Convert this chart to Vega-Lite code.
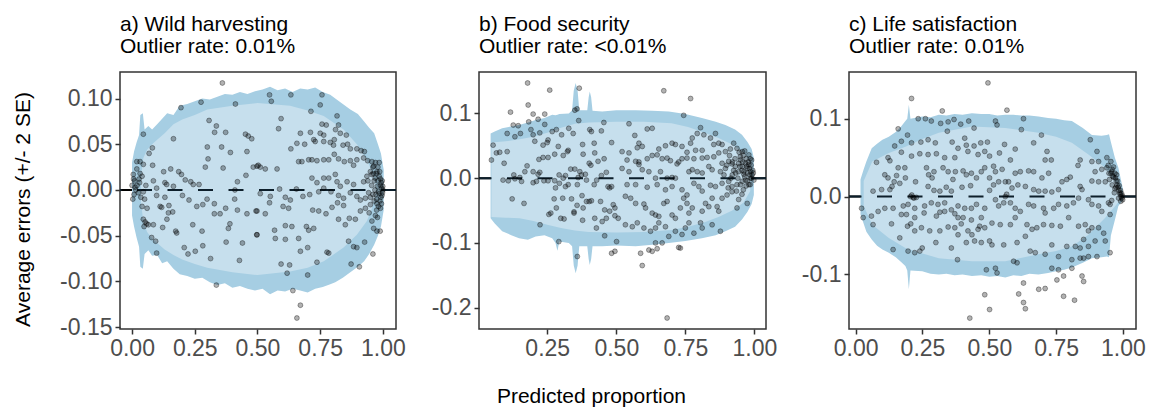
{
"$schema": "https://vega.github.io/schema/vega-lite/v6.json",
"background": "white",
"padding": {"left": 11, "top": 13, "right": 5, "bottom": 5},
"bounds": "flush",
"spacing": 83,
"datasets": {
"zero": [{"v": 0}],
"aOut": [{"x":0,"lo":-0.028,"hi":0.03},{"x":0.008,"lo":-0.04,"hi":0.042},{"x":0.018,"lo":-0.052,"hi":0.052},{"x":0.028,"lo":-0.062,"hi":0.06},{"x":0.033,"lo":-0.084,"hi":0.082},{"x":0.043,"lo":-0.086,"hi":0.084},{"x":0.05,"lo":-0.07,"hi":0.066},{"x":0.065,"lo":-0.066,"hi":0.07},{"x":0.08,"lo":-0.072,"hi":0.066},{"x":0.1,"lo":-0.071,"hi":0.072},{"x":0.12,"lo":-0.08,"hi":0.078},{"x":0.14,"lo":-0.078,"hi":0.084},{"x":0.165,"lo":-0.086,"hi":0.082},{"x":0.19,"lo":-0.092,"hi":0.092},{"x":0.22,"lo":-0.094,"hi":0.094},{"x":0.25,"lo":-0.097,"hi":0.097},{"x":0.28,"lo":-0.096,"hi":0.1},{"x":0.31,"lo":-0.101,"hi":0.099},{"x":0.34,"lo":-0.104,"hi":0.102},{"x":0.37,"lo":-0.102,"hi":0.105},{"x":0.4,"lo":-0.107,"hi":0.104},{"x":0.43,"lo":-0.105,"hi":0.107},{"x":0.46,"lo":-0.108,"hi":0.105},{"x":0.49,"lo":-0.11,"hi":0.108},{"x":0.52,"lo":-0.108,"hi":0.11},{"x":0.55,"lo":-0.114,"hi":0.113},{"x":0.58,"lo":-0.11,"hi":0.109},{"x":0.61,"lo":-0.111,"hi":0.111},{"x":0.64,"lo":-0.108,"hi":0.107},{"x":0.67,"lo":-0.11,"hi":0.111},{"x":0.7,"lo":-0.112,"hi":0.11},{"x":0.73,"lo":-0.108,"hi":0.112},{"x":0.76,"lo":-0.106,"hi":0.107},{"x":0.79,"lo":-0.103,"hi":0.104},{"x":0.81,"lo":-0.101,"hi":0.1},{"x":0.84,"lo":-0.096,"hi":0.094},{"x":0.87,"lo":-0.09,"hi":0.088},{"x":0.9,"lo":-0.084,"hi":0.083},{"x":0.925,"lo":-0.078,"hi":0.075},{"x":0.945,"lo":-0.07,"hi":0.068},{"x":0.965,"lo":-0.06,"hi":0.062},{"x":0.98,"lo":-0.05,"hi":0.05},{"x":0.992,"lo":-0.04,"hi":0.04},{"x":1.003,"lo":-0.022,"hi":0.022}],
"aIn": [{"x":0.035,"lo":-0.012,"hi":0.012},{"x":0.045,"lo":-0.035,"hi":0.035},{"x":0.06,"lo":-0.046,"hi":0.044},{"x":0.08,"lo":-0.053,"hi":0.05},{"x":0.1,"lo":-0.058,"hi":0.055},{"x":0.13,"lo":-0.065,"hi":0.062},{"x":0.165,"lo":-0.071,"hi":0.072},{"x":0.2,"lo":-0.076,"hi":0.077},{"x":0.25,"lo":-0.081,"hi":0.082},{"x":0.3,"lo":-0.085,"hi":0.088},{"x":0.4,"lo":-0.09,"hi":0.092},{"x":0.5,"lo":-0.093,"hi":0.095},{"x":0.63,"lo":-0.089,"hi":0.092},{"x":0.7,"lo":-0.085,"hi":0.087},{"x":0.764,"lo":-0.078,"hi":0.081},{"x":0.843,"lo":-0.063,"hi":0.066},{"x":0.896,"lo":-0.049,"hi":0.05},{"x":0.936,"lo":-0.034,"hi":0.033},{"x":0.956,"lo":-0.02,"hi":0.02},{"x":0.972,"lo":-0.005,"hi":0.005}],
"aPts": [{"x":0.36,"y":0.117},{"x":0.195,"y":0.09},{"x":0.275,"y":0.096},{"x":0.412,"y":0.094},{"x":0.045,"y":0.061},{"x":0.165,"y":0.056},{"x":0.307,"y":0.076},{"x":0.336,"y":0.07},{"x":0.329,"y":0.063},{"x":0.373,"y":0.063},{"x":0.452,"y":0.061},{"x":0.463,"y":0.059},{"x":0.477,"y":0.056},{"x":0.3,"y":0.047},{"x":0.357,"y":0.047},{"x":0.392,"y":0.041},{"x":0.458,"y":0.042},{"x":0.081,"y":0.046},{"x":0.068,"y":0.04},{"x":0.303,"y":0.034},{"x":0.292,"y":0.025},{"x":0.363,"y":0.024},{"x":0.454,"y":0.016},{"x":0.483,"y":0.025},{"x":0.503,"y":0.027},
{"x":0.019,"y":0.031},{"x":0.032,"y":0.031},{"x":0.045,"y":0.028},{"x":0.082,"y":0.027},{"x":0.019,"y":0.023},{"x":0.005,"y":0.017},{"x":0.032,"y":0.018},{"x":0.01,"y":0.01},{"x":0.02,"y":0.005},{"x":0.03,"y":0.008},{"x":0.015,"y":0},{"x":0.025,"y":-0.003},{"x":0.008,"y":-0.005},{"x":0.035,"y":-0.008},{"x":0.045,"y":-0.002},{"x":0.012,"y":0.003},{"x":0.028,"y":0.012},{"x":0.04,"y":0.015},{"x":0.05,"y":-0.01},{"x":0.055,"y":0.005},{"x":0.04,"y":-0.018},{"x":0.06,"y":-0.02},{"x":0.045,"y":-0.032},{"x":0.052,"y":-0.035},{"x":0.058,"y":-0.037},{"x":0.065,"y":-0.038},{"x":0.048,"y":-0.04},{"x":0,"y":0.005},{"x":0.003,"y":-0.01},{"x":0.006,"y":0.012},
{"x":0.126,"y":0.02},{"x":0.154,"y":0.023},{"x":0.186,"y":0.02},{"x":0.197,"y":0.017},{"x":0.212,"y":0.011},{"x":0.244,"y":0.006},{"x":0.267,"y":0.006},{"x":0.234,"y":0.009},{"x":0.085,"y":0.01},{"x":0.131,"y":0.008},{"x":0.138,"y":0.006},{"x":0.165,"y":0.004},{"x":0.098,"y":0.002},{"x":0.42,"y":0.009},{"x":0.41,"y":0},{"x":0.409,"y":-0.01},
{"x":0.201,"y":-0.006},{"x":0.227,"y":-0.011},{"x":0.258,"y":-0.018},{"x":0.282,"y":-0.016},{"x":0.299,"y":-0.01},{"x":0.328,"y":-0.015},{"x":0.328,"y":-0.026},{"x":0.351,"y":-0.026},
{"x":0.098,"y":-0.006},{"x":0.131,"y":-0.008},{"x":0.112,"y":-0.018},{"x":0.118,"y":-0.019},{"x":0.147,"y":-0.017},{"x":0.145,"y":-0.025},{"x":0.162,"y":-0.024},{"x":0.139,"y":-0.032},{"x":0.122,"y":-0.041},{"x":0.085,"y":-0.038},{"x":0.078,"y":-0.052},{"x":0.094,"y":-0.056},{"x":0.098,"y":-0.069},
{"x":0.42,"y":-0.022},{"x":0.458,"y":-0.026},{"x":0.494,"y":-0.023},{"x":0.497,"y":-0.049},{"x":0.373,"y":-0.02},{"x":0.39,"y":-0.037},{"x":0.384,"y":-0.042},{"x":0.279,"y":-0.045},{"x":0.242,"y":-0.038},{"x":0.178,"y":-0.047},{"x":0.174,"y":-0.045},
{"x":0.208,"y":-0.063},{"x":0.223,"y":-0.07},{"x":0.252,"y":-0.067},{"x":0.282,"y":-0.061},{"x":0.313,"y":-0.075},{"x":0.375,"y":-0.057},{"x":0.44,"y":-0.058},{"x":0.428,"y":-0.077},{"x":0.336,"y":-0.104},
{"x":0.548,"y":0.104},{"x":0.555,"y":0.097},{"x":0.633,"y":0.104},{"x":0.757,"y":0.104},{"x":0.75,"y":0.093},
{"x":0.713,"y":0.086},{"x":0.817,"y":0.081},{"x":0.774,"y":0.071},{"x":0.757,"y":0.072},{"x":0.823,"y":0.071},{"x":0.594,"y":0.078},{"x":0.584,"y":0.067},{"x":0.671,"y":0.062},{"x":0.711,"y":0.063},{"x":0.75,"y":0.062},{"x":0.724,"y":0.055},{"x":0.764,"y":0.06},{"x":0.811,"y":0.066},{"x":0.83,"y":0.062},{"x":0.854,"y":0.06},{"x":0.806,"y":0.055},
{"x":0.633,"y":0.045},{"x":0.657,"y":0.051},{"x":0.688,"y":0.05},{"x":0.73,"y":0.053},{"x":0.764,"y":0.053},{"x":0.79,"y":0.052},{"x":0.803,"y":0.049},{"x":0.841,"y":0.049},{"x":0.859,"y":0.05},{"x":0.87,"y":0.045},{"x":0.896,"y":0.045},{"x":0.913,"y":0.043},{"x":0.926,"y":0.042},
{"x":0.664,"y":0.031},{"x":0.677,"y":0.031},{"x":0.704,"y":0.033},{"x":0.717,"y":0.033},{"x":0.737,"y":0.032},{"x":0.764,"y":0.033},{"x":0.784,"y":0.033},{"x":0.806,"y":0.039},{"x":0.823,"y":0.034},{"x":0.846,"y":0.031},{"x":0.87,"y":0.032},{"x":0.883,"y":0.027},{"x":0.896,"y":0.033},{"x":0.923,"y":0.035},{"x":0.939,"y":0.032},{"x":0.956,"y":0.031},{"x":0.963,"y":0.026},{"x":0.976,"y":0.02},
{"x":0.498,"y":0.026},{"x":0.531,"y":0.023},{"x":0.511,"y":0.025},{"x":0.578,"y":0.023},{"x":0.717,"y":0.013},{"x":0.737,"y":0.008},{"x":0.764,"y":0.013},{"x":0.784,"y":0.013},{"x":0.81,"y":0.017},{"x":0.817,"y":0.009},{"x":0.83,"y":0.004},{"x":0.857,"y":0.009},{"x":0.883,"y":0.006},{"x":0.923,"y":0.009},{"x":0.936,"y":0.015},{"x":0.956,"y":0.017},{"x":0.969,"y":0.013},
{"x":0.588,"y":0.001},{"x":0.655,"y":0.001},{"x":0.551,"y":-0.007},{"x":0.548,"y":-0.014},{"x":0.511,"y":-0.004},{"x":0.611,"y":-0.008},{"x":0.631,"y":-0.011},{"x":0.681,"y":-0.007},{"x":0.708,"y":-0.005},{"x":0.744,"y":-0.002},{"x":0.764,"y":0.002},{"x":0.793,"y":-0.002},{"x":0.823,"y":-0.006},{"x":0.843,"y":-0.009},{"x":0.87,"y":-0.003},{"x":0.896,"y":-0.007},{"x":0.91,"y":-0.011},{"x":0.93,"y":-0.009},{"x":0.943,"y":-0.003},
{"x":0.498,"y":-0.023},{"x":0.531,"y":-0.026},{"x":0.602,"y":-0.018},{"x":0.624,"y":-0.02},{"x":0.72,"y":-0.022},{"x":0.744,"y":-0.023},{"x":0.773,"y":-0.026},{"x":0.797,"y":-0.019},{"x":0.819,"y":-0.014},{"x":0.843,"y":-0.017},{"x":0.823,"y":-0.032},{"x":0.85,"y":-0.038},{"x":0.866,"y":-0.031},{"x":0.89,"y":-0.032},{"x":0.91,"y":-0.023},{"x":0.93,"y":-0.02},{"x":0.95,"y":-0.016},{"x":0.976,"y":-0.015},{"x":0.956,"y":-0.034},
{"x":0.611,"y":-0.039},{"x":0.637,"y":-0.04},{"x":0.498,"y":-0.049},{"x":0.568,"y":-0.044},{"x":0.571,"y":-0.053},{"x":0.611,"y":-0.054},{"x":0.695,"y":-0.04},{"x":0.704,"y":-0.044},{"x":0.724,"y":-0.042},{"x":0.664,"y":-0.053},{"x":0.671,"y":-0.067},{"x":0.7,"y":-0.063},{"x":0.777,"y":-0.068},{"x":0.863,"y":-0.056},{"x":0.883,"y":-0.062},{"x":0.896,"y":-0.063},{"x":0.927,"y":-0.057},{"x":0.963,"y":-0.042},{"x":0.976,"y":-0.045},{"x":0.989,"y":-0.045},{"x":0.96,"y":-0.07},
{"x":0.594,"y":-0.081},{"x":0.628,"y":-0.082},{"x":0.618,"y":-0.091},{"x":0.7,"y":-0.093},{"x":0.737,"y":-0.079},{"x":0.784,"y":-0.069},{"x":0.873,"y":-0.081},{"x":0.906,"y":-0.084},{"x":0.641,"y":-0.11},{"x":0.671,"y":-0.126},{"x":0.657,"y":-0.14},
{"x":0.95,"y":0.02},{"x":0.96,"y":0.025},{"x":0.97,"y":0.03},{"x":0.975,"y":0.018},{"x":0.98,"y":0.01},{"x":0.985,"y":0.015},{"x":0.99,"y":0.005},{"x":0.995,"y":0.002},{"x":1,"y":0},{"x":0.998,"y":-0.003},{"x":0.992,"y":-0.008},{"x":0.988,"y":-0.012},{"x":0.982,"y":-0.018},{"x":0.975,"y":-0.022},{"x":0.97,"y":-0.028},{"x":0.965,"y":-0.012},{"x":0.96,"y":-0.005},{"x":0.955,"y":0.005},{"x":0.965,"y":0.01},{"x":0.978,"y":0.004},{"x":0.985,"y":-0.004},{"x":0.99,"y":0.012},{"x":0.993,"y":0.008},{"x":0.996,"y":-0.006},{"x":0.999,"y":0.004},{"x":0.997,"y":0.01},{"x":0.987,"y":0.02},{"x":0.98,"y":0.025},{"x":0.972,"y":-0.005},{"x":0.968,"y":0},{"x":0.975,"y":-0.01},{"x":0.982,"y":-0.002},{"x":0.994,"y":-0.015},{"x":0.99,"y":-0.02},{"x":0.945,"y":-0.025},{"x":0.94,"y":0.01},{"x":0.95,"y":-0.008},{"x":0.985,"y":0.03},{"x":0.978,"y":-0.03},{"x":0.962,"y":0.018}],
"bOut": [{"x":0.045,"lo":-0.062,"hi":0.069},{"x":0.06,"lo":-0.07,"hi":0.072},{"x":0.087,"lo":-0.082,"hi":0.077},{"x":0.12,"lo":-0.088,"hi":0.08},{"x":0.148,"lo":-0.093,"hi":0.082},{"x":0.18,"lo":-0.095,"hi":0.086},{"x":0.208,"lo":-0.09,"hi":0.09},{"x":0.24,"lo":-0.088,"hi":0.093},{"x":0.268,"lo":-0.093,"hi":0.098},{"x":0.28,"lo":-0.1,"hi":0.097},{"x":0.287,"lo":-0.112,"hi":0.098},{"x":0.294,"lo":-0.098,"hi":0.099},{"x":0.328,"lo":-0.1,"hi":0.1},{"x":0.34,"lo":-0.105,"hi":0.105},{"x":0.346,"lo":-0.135,"hi":0.135},{"x":0.353,"lo":-0.147,"hi":0.147},{"x":0.36,"lo":-0.135,"hi":0.135},{"x":0.366,"lo":-0.105,"hi":0.105},{"x":0.395,"lo":-0.105,"hi":0.105},{"x":0.4,"lo":-0.125,"hi":0.125},{"x":0.404,"lo":-0.134,"hi":0.134},{"x":0.409,"lo":-0.125,"hi":0.125},{"x":0.414,"lo":-0.105,"hi":0.104},{"x":0.449,"lo":-0.105,"hi":0.103},{"x":0.5,"lo":-0.104,"hi":0.105},{"x":0.57,"lo":-0.105,"hi":0.105},{"x":0.63,"lo":-0.103,"hi":0.104},{"x":0.69,"lo":-0.1,"hi":0.103},{"x":0.75,"lo":-0.097,"hi":0.099},{"x":0.81,"lo":-0.093,"hi":0.093},{"x":0.86,"lo":-0.088,"hi":0.087},{"x":0.895,"lo":-0.082,"hi":0.082},{"x":0.93,"lo":-0.075,"hi":0.075},{"x":0.955,"lo":-0.064,"hi":0.067},{"x":0.975,"lo":-0.052,"hi":0.056},{"x":0.99,"lo":-0.04,"hi":0.045},{"x":0.998,"lo":-0.026,"hi":0.031}],
"bIn": [{"x":0.048,"lo":-0.06,"hi":0.055},{"x":0.1,"lo":-0.061,"hi":0.057},{"x":0.15,"lo":-0.062,"hi":0.06},{"x":0.2,"lo":-0.066,"hi":0.064},{"x":0.25,"lo":-0.072,"hi":0.07},{"x":0.3,"lo":-0.077,"hi":0.078},{"x":0.35,"lo":-0.081,"hi":0.084},{"x":0.4,"lo":-0.083,"hi":0.086},{"x":0.5,"lo":-0.084,"hi":0.087},{"x":0.6,"lo":-0.083,"hi":0.087},{"x":0.7,"lo":-0.08,"hi":0.085},{"x":0.76,"lo":-0.075,"hi":0.079},{"x":0.82,"lo":-0.068,"hi":0.07},{"x":0.87,"lo":-0.06,"hi":0.062},{"x":0.92,"lo":-0.05,"hi":0.052},{"x":0.96,"lo":-0.038,"hi":0.04},{"x":0.985,"lo":-0.02,"hi":0.025}],
"bPts": [{"x":0.179,"y":0.147},{"x":0.259,"y":0.136},{"x":0.366,"y":0.139},{"x":0.181,"y":0.113},{"x":0.117,"y":0.102},{"x":0.199,"y":0.099},{"x":0.241,"y":0.099},{"x":0.183,"y":0.087},{"x":0.217,"y":0.091},{"x":0.127,"y":0.082},{"x":0.145,"y":0.081},{"x":0.105,"y":0.069},{"x":0.133,"y":0.064},{"x":0.153,"y":0.069},{"x":0.191,"y":0.075},{"x":0.199,"y":0.067},{"x":0.241,"y":0.083},{"x":0.223,"y":0.07},{"x":0.268,"y":0.072},{"x":0.283,"y":0.075},{"x":0.302,"y":0.067},{"x":0.328,"y":0.077},{"x":0.344,"y":0.069},{"x":0.35,"y":0.105},{"x":0.358,"y":0.107},{"x":0.364,"y":0.089},{"x":0.404,"y":0.075},{"x":0.41,"y":0.072},{"x":0.446,"y":0.073},{"x":0.455,"y":0.086},{"x":0.483,"y":0.055},
{"x":0.054,"y":0.051},{"x":0.066,"y":0.039},{"x":0.048,"y":0.028},{"x":0.078,"y":0.04},{"x":0.105,"y":0.041},{"x":0.094,"y":0.023},{"x":0.205,"y":0.057},{"x":0.235,"y":0.051},{"x":0.253,"y":0.059},{"x":0.25,"y":0.055},{"x":0.29,"y":0.049},{"x":0.326,"y":0.043},{"x":0.323,"y":0.041},{"x":0.308,"y":0.035},{"x":0.253,"y":0.032},{"x":0.235,"y":0.032},{"x":0.22,"y":0.029},{"x":0.277,"y":0.037},
{"x":0.378,"y":0.052},{"x":0.42,"y":0.054},{"x":0.38,"y":0.037},{"x":0.422,"y":0.039},{"x":0.456,"y":0.03},{"x":0.434,"y":0.026},{"x":0.402,"y":0.023},{"x":0.408,"y":0.02},
{"x":0.177,"y":0.019},{"x":0.169,"y":0.01},{"x":0.199,"y":0.01},{"x":0.223,"y":0.009},{"x":0.217,"y":0.006},{"x":0.129,"y":0.005},{"x":0.151,"y":0.001},{"x":0.157,"y":-0.005},{"x":0.09,"y":-0.003},{"x":0.109,"y":-0.004},{"x":0.133,"y":-0.001},
{"x":0.293,"y":0.005},{"x":0.308,"y":0},{"x":0.316,"y":0.004},{"x":0.335,"y":0.014},{"x":0.35,"y":0.014},{"x":0.368,"y":0.01},{"x":0.362,"y":0.001},{"x":0.374,"y":0.005},{"x":0.388,"y":0.006},{"x":0.392,"y":-0.003},
{"x":0.199,"y":-0.007},{"x":0.211,"y":-0.005},{"x":0.238,"y":-0.004},{"x":0.253,"y":-0.004},{"x":0.277,"y":-0.004},{"x":0.294,"y":-0.008},{"x":0.28,"y":-0.015},{"x":0.316,"y":-0.013},{"x":0.326,"y":-0.01},{"x":0.359,"y":-0.01},
{"x":0.42,"y":-0.01},{"x":0.429,"y":-0.003},{"x":0.446,"y":0.004},{"x":0.464,"y":0.009},{"x":0.47,"y":-0.013},{"x":0.476,"y":-0.015},{"x":0.483,"y":-0.013},
{"x":0.123,"y":-0.032},{"x":0.166,"y":-0.039},{"x":0.275,"y":-0.032},{"x":0.306,"y":-0.031},{"x":0.338,"y":-0.032},{"x":0.376,"y":-0.027},{"x":0.392,"y":-0.036},{"x":0.402,"y":-0.036},{"x":0.41,"y":-0.035},{"x":0.358,"y":-0.042},{"x":0.347,"y":-0.052},{"x":0.38,"y":-0.046},{"x":0.443,"y":-0.036},{"x":0.458,"y":-0.049},{"x":0.476,"y":-0.051},{"x":0.489,"y":-0.041},{"x":0.495,"y":-0.046},{"x":0.495,"y":-0.058},{"x":0.507,"y":-0.062},{"x":0.464,"y":-0.062},{"x":0.449,"y":-0.067},
{"x":0.263,"y":-0.054},{"x":0.256,"y":-0.056},{"x":0.283,"y":-0.046},{"x":0.299,"y":-0.062},{"x":0.311,"y":-0.063},{"x":0.347,"y":-0.054},{"x":0.378,"y":-0.065},{"x":0.422,"y":-0.062},{"x":0.428,"y":-0.077},{"x":0.458,"y":-0.089},{"x":0.224,"y":-0.072},{"x":0.292,"y":-0.098},{"x":0.359,"y":-0.121},{"x":0.501,"y":-0.098},{"x":0.483,"y":-0.116},{"x":0.495,"y":-0.113},
{"x":0.672,"y":0.135},{"x":0.769,"y":0.123},{"x":0.744,"y":0.097},{"x":0.805,"y":0.078},{"x":0.793,"y":0.069},{"x":0.817,"y":0.067},{"x":0.859,"y":0.069},
{"x":0.612,"y":0.076},{"x":0.63,"y":0.077},{"x":0.546,"y":0.084},{"x":0.567,"y":0.066},{"x":0.582,"y":0.054},{"x":0.576,"y":0.047},{"x":0.594,"y":0.049},{"x":0.654,"y":0.045},{"x":0.678,"y":0.05},{"x":0.702,"y":0.054},{"x":0.714,"y":0.052},{"x":0.738,"y":0.049},{"x":0.756,"y":0.04},{"x":0.775,"y":0.062},{"x":0.769,"y":0.054},{"x":0.787,"y":0.043},{"x":0.811,"y":0.043},{"x":0.841,"y":0.062},{"x":0.853,"y":0.052},{"x":0.871,"y":0.054},{"x":0.883,"y":0.052},
{"x":0.521,"y":0.041},{"x":0.546,"y":0.039},{"x":0.539,"y":0.028},{"x":0.57,"y":0.026},{"x":0.582,"y":0.025},{"x":0.594,"y":0.013},{"x":0.612,"y":0.03},{"x":0.63,"y":0.035},{"x":0.648,"y":0.036},{"x":0.666,"y":0.03},{"x":0.684,"y":0.031},{"x":0.696,"y":0.027},{"x":0.72,"y":0.022},{"x":0.726,"y":0.025},{"x":0.738,"y":0.03},{"x":0.756,"y":0.031},{"x":0.781,"y":0.03},{"x":0.811,"y":0.031},{"x":0.829,"y":0.032},{"x":0.853,"y":0.033},{"x":0.871,"y":0.039},{"x":0.895,"y":0.041},{"x":0.913,"y":0.045},{"x":0.925,"y":0.054},{"x":0.937,"y":0.046},{"x":0.956,"y":0.041},{"x":0.949,"y":0.033},
{"x":0.521,"y":0.015},{"x":0.546,"y":0.01},{"x":0.582,"y":0.021},{"x":0.618,"y":0.01},{"x":0.642,"y":0},{"x":0.66,"y":0.01},{"x":0.684,"y":0},{"x":0.702,"y":0.001},{"x":0.714,"y":0},{"x":0.763,"y":0.01},{"x":0.775,"y":0.013},{"x":0.793,"y":0.01},{"x":0.811,"y":0.008},{"x":0.835,"y":0.018},{"x":0.847,"y":0.013},{"x":0.877,"y":0.01},{"x":0.883,"y":0.023},{"x":0.895,"y":0.015},{"x":0.907,"y":0.026},{"x":0.919,"y":0.022},{"x":0.931,"y":0.018},{"x":0.943,"y":0.023},{"x":0.956,"y":0.018},{"x":0.968,"y":0.023},{"x":0.974,"y":0.015},{"x":0.986,"y":0.01},{"x":0.98,"y":0.021},{"x":0.962,"y":0.01},{"x":0.943,"y":0.01},{"x":0.992,"y":0.005},
{"x":0.539,"y":-0.01},{"x":0.57,"y":-0.01},{"x":0.612,"y":-0.014},{"x":0.648,"y":-0.01},{"x":0.678,"y":-0.018},{"x":0.702,"y":-0.013},{"x":0.738,"y":-0.018},{"x":0.756,"y":-0.026},{"x":0.781,"y":-0.008},{"x":0.799,"y":-0.013},{"x":0.811,"y":-0.02},{"x":0.841,"y":-0.011},{"x":0.859,"y":-0.013},{"x":0.883,"y":-0.008},{"x":0.907,"y":-0.005},{"x":0.919,"y":-0.013},{"x":0.937,"y":-0.01},{"x":0.956,"y":-0.005},{"x":0.968,"y":-0.003},{"x":0.986,"y":0},{"x":0.998,"y":-0.003},{"x":0.98,"y":-0.01},
{"x":0.533,"y":-0.028},{"x":0.552,"y":-0.031},{"x":0.57,"y":-0.039},{"x":0.6,"y":-0.04},{"x":0.606,"y":-0.046},{"x":0.63,"y":-0.054},{"x":0.642,"y":-0.057},{"x":0.654,"y":-0.059},{"x":0.672,"y":-0.039},{"x":0.684,"y":-0.036},{"x":0.702,"y":-0.057},{"x":0.714,"y":-0.062},{"x":0.732,"y":-0.046},{"x":0.744,"y":-0.031},{"x":0.756,"y":-0.039},{"x":0.775,"y":-0.046},{"x":0.763,"y":-0.054},{"x":0.811,"y":-0.051},{"x":0.823,"y":-0.039},{"x":0.835,"y":-0.044},{"x":0.847,"y":-0.031},{"x":0.865,"y":-0.044},{"x":0.871,"y":-0.051},{"x":0.883,"y":-0.031},{"x":0.901,"y":-0.026},{"x":0.919,"y":-0.021},{"x":0.943,"y":-0.033},{"x":0.974,"y":-0.039},{"x":0.937,"y":-0.046},
{"x":0.533,"y":-0.072},{"x":0.558,"y":-0.075},{"x":0.576,"y":-0.069},{"x":0.6,"y":-0.077},{"x":0.624,"y":-0.082},{"x":0.642,"y":-0.077},{"x":0.654,"y":-0.069},{"x":0.678,"y":-0.075},{"x":0.69,"y":-0.09},{"x":0.714,"y":-0.082},{"x":0.738,"y":-0.087},{"x":0.75,"y":-0.077},{"x":0.763,"y":-0.069},{"x":0.781,"y":-0.085},{"x":0.805,"y":-0.069},{"x":0.811,"y":-0.077},{"x":0.847,"y":-0.072},{"x":0.877,"y":-0.082},
{"x":0.642,"y":-0.1},{"x":0.648,"y":-0.109},{"x":0.618,"y":-0.111},{"x":0.63,"y":-0.113},{"x":0.666,"y":-0.1},{"x":0.726,"y":-0.107},{"x":0.732,"y":-0.108},{"x":0.588,"y":-0.116},{"x":0.594,"y":-0.135},{"x":0.684,"y":-0.216},
{"x":0.9,"y":0.02},{"x":0.91,"y":0.035},{"x":0.92,"y":0.005},{"x":0.93,"y":0.03},{"x":0.94,"y":0},{"x":0.95,"y":0.028},{"x":0.955,"y":0.012},{"x":0.96,"y":0.035},{"x":0.965,"y":0.002},{"x":0.97,"y":0.03},{"x":0.975,"y":0.008},{"x":0.978,"y":0.025},{"x":0.982,"y":0.015},{"x":0.985,"y":0.03},{"x":0.99,"y":0},{"x":0.988,"y":0.02},{"x":0.994,"y":0.012},{"x":0.97,"y":-0.012},{"x":0.96,"y":-0.018},{"x":0.95,"y":-0.01},{"x":0.935,"y":-0.02},{"x":0.925,"y":0.012},{"x":0.915,"y":0},{"x":0.905,"y":-0.015},{"x":0.89,"y":0.005},{"x":0.945,"y":0.04},{"x":0.958,"y":0.025},{"x":0.972,"y":0.018},{"x":0.983,"y":0.005},{"x":0.996,"y":0.008},{"x":0.975,"y":-0.004},{"x":0.962,"y":0.006},{"x":0.948,"y":0.018},{"x":0.932,"y":0.008},{"x":0.92,"y":0.025},{"x":0.98,"y":0.036},{"x":0.99,"y":0.028},{"x":0.965,"y":0.042},{"x":0.955,"y":-0.025},{"x":0.985,"y":-0.01}],
"cOut": [{"x":0.018,"lo":-0.023,"hi":0.022},{"x":0.03,"lo":-0.035,"hi":0.035},{"x":0.04,"lo":-0.045,"hi":0.045},{"x":0.06,"lo":-0.055,"hi":0.062},{"x":0.08,"lo":-0.063,"hi":0.068},{"x":0.1,"lo":-0.068,"hi":0.073},{"x":0.124,"lo":-0.072,"hi":0.077},{"x":0.15,"lo":-0.078,"hi":0.083},{"x":0.17,"lo":-0.084,"hi":0.09},{"x":0.186,"lo":-0.089,"hi":0.097},{"x":0.193,"lo":-0.095,"hi":0.1},{"x":0.199,"lo":-0.119,"hi":0.118},{"x":0.205,"lo":-0.095,"hi":0.1},{"x":0.249,"lo":-0.096,"hi":0.103},{"x":0.28,"lo":-0.099,"hi":0.102},{"x":0.311,"lo":-0.1,"hi":0.105},{"x":0.34,"lo":-0.099,"hi":0.104},{"x":0.37,"lo":-0.101,"hi":0.106},{"x":0.4,"lo":-0.1,"hi":0.105},{"x":0.435,"lo":-0.102,"hi":0.107},{"x":0.47,"lo":-0.101,"hi":0.106},{"x":0.5,"lo":-0.103,"hi":0.106},{"x":0.53,"lo":-0.102,"hi":0.104},{"x":0.56,"lo":-0.104,"hi":0.105},{"x":0.59,"lo":-0.101,"hi":0.105},{"x":0.62,"lo":-0.102,"hi":0.104},{"x":0.65,"lo":-0.099,"hi":0.104},{"x":0.684,"lo":-0.1,"hi":0.103},{"x":0.72,"lo":-0.098,"hi":0.101},{"x":0.75,"lo":-0.096,"hi":0.1},{"x":0.78,"lo":-0.094,"hi":0.098},{"x":0.809,"lo":-0.091,"hi":0.097},{"x":0.85,"lo":-0.085,"hi":0.088},{"x":0.884,"lo":-0.079,"hi":0.079},{"x":0.92,"lo":-0.078,"hi":0.078},{"x":0.94,"lo":-0.077,"hi":0.079},{"x":0.948,"lo":-0.078,"hi":0.08},{"x":0.955,"lo":-0.05,"hi":0.07},{"x":0.97,"lo":-0.03,"hi":0.05},{"x":0.983,"lo":-0.012,"hi":0.037},{"x":1,"lo":-0.005,"hi":0.01}],
"cIn": [{"x":0.03,"lo":-0.012,"hi":0.02},{"x":0.062,"lo":-0.036,"hi":0.045},{"x":0.124,"lo":-0.053,"hi":0.056},{"x":0.186,"lo":-0.066,"hi":0.064},{"x":0.25,"lo":-0.073,"hi":0.074},{"x":0.311,"lo":-0.079,"hi":0.082},{"x":0.435,"lo":-0.083,"hi":0.09},{"x":0.56,"lo":-0.083,"hi":0.088},{"x":0.684,"lo":-0.074,"hi":0.082},{"x":0.75,"lo":-0.07,"hi":0.077},{"x":0.809,"lo":-0.064,"hi":0.069},{"x":0.871,"lo":-0.049,"hi":0.054},{"x":0.934,"lo":-0.027,"hi":0.037},{"x":0.996,"lo":-0.002,"hi":0.007}],
"cPts": [{"x":0.495,"y":0.146},{"x":0.209,"y":0.126},{"x":0.324,"y":0.11},
{"x":0.234,"y":0.1},{"x":0.261,"y":0.1},{"x":0.283,"y":0.097},{"x":0.318,"y":0.094},{"x":0.346,"y":0.096},{"x":0.368,"y":0.099},{"x":0.393,"y":0.093},{"x":0.423,"y":0.097},{"x":0.443,"y":0.088},{"x":0.408,"y":0.075},
{"x":0.159,"y":0.087},{"x":0.194,"y":0.079},{"x":0.171,"y":0.071},{"x":0.146,"y":0.065},{"x":0.209,"y":0.069},{"x":0.244,"y":0.07},{"x":0.271,"y":0.073},{"x":0.298,"y":0.069},{"x":0.343,"y":0.084},{"x":0.361,"y":0.07},{"x":0.383,"y":0.062},{"x":0.414,"y":0.066},{"x":0.443,"y":0.065},{"x":0.468,"y":0.069},{"x":0.493,"y":0.07},
{"x":0.078,"y":0.044},{"x":0.121,"y":0.05},{"x":0.128,"y":0.046},{"x":0.171,"y":0.057},{"x":0.209,"y":0.052},{"x":0.24,"y":0.055},{"x":0.271,"y":0.054},{"x":0.302,"y":0.055},{"x":0.333,"y":0.05},{"x":0.371,"y":0.05},{"x":0.42,"y":0.058},{"x":0.458,"y":0.054},{"x":0.483,"y":0.058},{"x":0.501,"y":0.052},
{"x":0.109,"y":0.028},{"x":0.121,"y":0.024},{"x":0.153,"y":0.027},{"x":0.159,"y":0.037},{"x":0.184,"y":0.037},{"x":0.136,"y":0.013},{"x":0.144,"y":0.019},{"x":0.165,"y":0.017},{"x":0.186,"y":0.024},{"x":0.224,"y":0.019},{"x":0.265,"y":0.037},{"x":0.273,"y":0.028},{"x":0.286,"y":0.024},{"x":0.293,"y":0.032},{"x":0.327,"y":0.037},{"x":0.346,"y":0.032},{"x":0.364,"y":0.022},{"x":0.373,"y":0.032},{"x":0.402,"y":0.033},{"x":0.414,"y":0.028},{"x":0.433,"y":0.03},{"x":0.452,"y":0.024},{"x":0.47,"y":0.032},{"x":0.483,"y":0.037},{"x":0.501,"y":0.024},
{"x":0.065,"y":0.007},{"x":0.097,"y":0.009},{"x":0.128,"y":0.009},{"x":0.215,"y":-0.001},{"x":0.227,"y":-0.001},{"x":0.205,"y":0},{"x":0.21,"y":0.002},{"x":0.218,"y":-0.002},{"x":0.271,"y":0.013},{"x":0.293,"y":0.008},{"x":0.315,"y":0.007},{"x":0.339,"y":0.012},{"x":0.358,"y":0.007},{"x":0.398,"y":0.012},{"x":0.43,"y":0.014},{"x":0.501,"y":0.008},
{"x":0.109,"y":-0.015},{"x":0.14,"y":-0.015},{"x":0.178,"y":-0.012},{"x":0.196,"y":-0.01},{"x":0.221,"y":-0.015},{"x":0.258,"y":-0.012},{"x":0.283,"y":-0.008},{"x":0.308,"y":-0.01},{"x":0.333,"y":-0.008},{"x":0.358,"y":-0.017},{"x":0.383,"y":-0.012},{"x":0.408,"y":-0.015},{"x":0.433,"y":-0.015},{"x":0.452,"y":-0.01},{"x":0.483,"y":-0.015},
{"x":0.059,"y":-0.025},{"x":0.084,"y":-0.019},{"x":0.022,"y":-0.015},{"x":0.028,"y":-0.027},{"x":0.065,"y":-0.036},{"x":0.134,"y":-0.035},{"x":0.171,"y":-0.023},{"x":0.19,"y":-0.023},{"x":0.221,"y":-0.027},{"x":0.256,"y":-0.021},{"x":0.302,"y":-0.025},{"x":0.315,"y":-0.02},{"x":0.333,"y":-0.019},{"x":0.371,"y":-0.022},{"x":0.383,"y":-0.027},{"x":0.402,"y":-0.027},{"x":0.433,"y":-0.03},{"x":0.47,"y":-0.027},{"x":0.464,"y":-0.038},
{"x":0.194,"y":-0.038},{"x":0.206,"y":-0.035},{"x":0.221,"y":-0.044},{"x":0.246,"y":-0.04},{"x":0.277,"y":-0.044},{"x":0.315,"y":-0.044},{"x":0.346,"y":-0.039},{"x":0.371,"y":-0.04},{"x":0.395,"y":-0.035},{"x":0.42,"y":-0.044},{"x":0.435,"y":-0.049},{"x":0.458,"y":-0.042},{"x":0.483,"y":-0.04},
{"x":0.14,"y":-0.068},{"x":0.165,"y":-0.053},{"x":0.196,"y":-0.07},{"x":0.221,"y":-0.072},{"x":0.24,"y":-0.07},{"x":0.249,"y":-0.066},{"x":0.3,"y":-0.059},{"x":0.358,"y":-0.066},{"x":0.383,"y":-0.049},{"x":0.414,"y":-0.059},{"x":0.445,"y":-0.057},{"x":0.47,"y":-0.059},{"x":0.501,"y":-0.057},
{"x":0.381,"y":-0.081},{"x":0.489,"y":-0.094},{"x":0.483,"y":-0.126},{"x":0.427,"y":-0.156},{"x":0.501,"y":-0.145},
{"x":0.566,"y":0.111},{"x":0.523,"y":0.097},{"x":0.529,"y":0.092},{"x":0.628,"y":0.1},{"x":0.62,"y":0.086},{"x":0.695,"y":0.079},{"x":0.666,"y":0.069},{"x":0.597,"y":0.061},{"x":0.557,"y":0.067},{"x":0.538,"y":0.056},{"x":0.579,"y":0.047},{"x":0.516,"y":0.039},{"x":0.523,"y":0.032},{"x":0.548,"y":0.035},
{"x":0.716,"y":0.058},{"x":0.709,"y":0.047},{"x":0.732,"y":0.047},{"x":0.722,"y":0.03},{"x":0.697,"y":0.024},{"x":0.666,"y":0.032},{"x":0.647,"y":0.033},{"x":0.616,"y":0.032},{"x":0.597,"y":0.03},{"x":0.572,"y":0.019},{"x":0.56,"y":0.019},{"x":0.535,"y":0.019},{"x":0.516,"y":0.015},
{"x":0.84,"y":0.047},{"x":0.832,"y":0.04},{"x":0.803,"y":0.025},{"x":0.79,"y":0.022},{"x":0.772,"y":0.019},{"x":0.759,"y":0.009},{"x":0.734,"y":0.006},{"x":0.709,"y":0.007},{"x":0.685,"y":0.007},{"x":0.666,"y":0.009},{"x":0.635,"y":0.013},{"x":0.607,"y":0.015},{"x":0.585,"y":0.011},{"x":0.56,"y":0},{"x":0.565,"y":0.003},
{"x":0.878,"y":0.073},{"x":0.903,"y":0.058},{"x":0.909,"y":0.045},{"x":0.884,"y":0.045},{"x":0.896,"y":0.032},{"x":0.921,"y":0.035},{"x":0.94,"y":0.037},{"x":0.958,"y":0.032},{"x":0.934,"y":0.019},{"x":0.909,"y":0.019},{"x":0.884,"y":0.02},{"x":0.84,"y":0.013},{"x":0.847,"y":0.009},
{"x":0.523,"y":-0.004},{"x":0.535,"y":-0.012},{"x":0.554,"y":-0.008},{"x":0.579,"y":-0.008},{"x":0.597,"y":-0.015},{"x":0.616,"y":-0.019},{"x":0.647,"y":-0.01},{"x":0.666,"y":-0.012},{"x":0.703,"y":-0.015},{"x":0.709,"y":-0.021},{"x":0.741,"y":-0.015},{"x":0.759,"y":-0.01},{"x":0.79,"y":-0.012},{"x":0.815,"y":-0.008},{"x":0.834,"y":-0.002},{"x":0.871,"y":-0.004},{"x":0.884,"y":-0.01},{"x":0.909,"y":-0.012},{"x":0.921,"y":-0.019},{"x":0.946,"y":-0.008},{"x":0.952,"y":-0.023},
{"x":0.51,"y":-0.034},{"x":0.541,"y":-0.036},{"x":0.579,"y":-0.036},{"x":0.597,"y":-0.027},{"x":0.641,"y":-0.036},{"x":0.66,"y":-0.042},{"x":0.678,"y":-0.04},{"x":0.703,"y":-0.036},{"x":0.734,"y":-0.037},{"x":0.766,"y":-0.038},{"x":0.797,"y":-0.027},{"x":0.834,"y":-0.038},{"x":0.859,"y":-0.036},{"x":0.871,"y":-0.044},{"x":0.884,"y":-0.04},{"x":0.909,"y":-0.04},{"x":0.928,"y":-0.047},{"x":0.896,"y":-0.057},{"x":0.871,"y":-0.064},{"x":0.853,"y":-0.055},{"x":0.84,"y":-0.066},{"x":0.822,"y":-0.064},
{"x":0.51,"y":-0.062},{"x":0.554,"y":-0.062},{"x":0.604,"y":-0.059},{"x":0.635,"y":-0.051},{"x":0.653,"y":-0.07},{"x":0.672,"y":-0.072},{"x":0.709,"y":-0.074},{"x":0.734,"y":-0.062},{"x":0.759,"y":-0.077},{"x":0.79,"y":-0.064},{"x":0.809,"y":-0.081},{"x":0.84,"y":-0.079},{"x":0.853,"y":-0.079},{"x":0.871,"y":-0.077},{"x":0.903,"y":-0.077},{"x":0.934,"y":-0.057},{"x":0.952,"y":-0.072},
{"x":0.523,"y":-0.092},{"x":0.529,"y":-0.098},{"x":0.591,"y":-0.083},{"x":0.604,"y":-0.085},{"x":0.734,"y":-0.092},{"x":0.759,"y":-0.094},{"x":0.778,"y":-0.102},{"x":0.809,"y":-0.092},{"x":0.847,"y":-0.102},{"x":0.853,"y":-0.109},{"x":0.753,"y":-0.107},
{"x":0.628,"y":-0.111},{"x":0.685,"y":-0.119},{"x":0.709,"y":-0.118},{"x":0.61,"y":-0.125},{"x":0.628,"y":-0.136},{"x":0.635,"y":-0.144},{"x":0.778,"y":-0.128},{"x":0.819,"y":-0.133},
{"x":0.955,"y":0.03},{"x":0.96,"y":0.035},{"x":0.965,"y":0.025},{"x":0.97,"y":0.03},{"x":0.975,"y":0.02},{"x":0.978,"y":0.015},{"x":0.982,"y":0.012},{"x":0.985,"y":0.008},{"x":0.988,"y":0.005},{"x":0.99,"y":0.003},{"x":0.993,"y":0},{"x":0.996,"y":-0.002},{"x":0.999,"y":-0.004},{"x":0.97,"y":0.01},{"x":0.96,"y":0.015},{"x":0.95,"y":0.022},{"x":0.945,"y":0.04},{"x":0.94,"y":0.05},{"x":0.955,"y":0.045},{"x":0.965,"y":0.038},{"x":0.972,"y":0.024},{"x":0.98,"y":0.02},{"x":0.986,"y":0.014},{"x":0.991,"y":0.008},{"x":0.995,"y":0.004},{"x":0.998,"y":0.001},{"x":0.976,"y":0.028},{"x":0.968,"y":0.005},{"x":0.958,"y":-0.005},{"x":0.952,"y":-0.01},{"x":0.984,"y":-0.002},{"x":0.992,"y":-0.006},{"x":0.962,"y":0.026},{"x":0.974,"y":0.012},{"x":0.948,"y":0.03}]
},
"hconcat": [
{
"width": 276, "height": 257,
"title": {"text": ["a) Wild harvesting", "Outlier rate: 0.01%"]},
"layer": [
{"data": {"name": "zero"}, "mark": {"type": "rule", "color": "black", "strokeWidth": 2},
 "encoding": {"y": {"field": "v", "type": "quantitative", "scale": {"domain": [-0.152, 0.129], "nice": false, "zero": false},
   "axis": {"title": "Average errors (+/- 2 SE)", "values": [-0.15, -0.1, -0.05, 0, 0.05, 0.1], "labelExpr": "replace(format(datum.value, '.2f'), '\u2212', '-')", "titleX": -97, "titleY": 137, "titleAngle": 270, "titleAlign": "center", "titleBaseline": "middle"}}}},
{"data": {"name": "aOut"}, "mark": {"type": "area", "color": "#a6cee3", "opacity": 1},
 "encoding": {"x": {"field": "x", "type": "quantitative", "scale": {"domain": [-0.048, 1.052], "nice": false, "zero": false},
   "axis": {"title": null, "values": [0, 0.25, 0.5, 0.75, 1], "labelExpr": "replace(format(datum.value, '.2f'), '\u2212', '-')"}},
  "y": {"field": "hi", "type": "quantitative", "scale": {"domain": [-0.152, 0.129], "nice": false, "zero": false},
   "axis": {"title": "Average errors (+/- 2 SE)", "values": [-0.15, -0.1, -0.05, 0, 0.05, 0.1], "labelExpr": "replace(format(datum.value, '.2f'), '\u2212', '-')", "titleX": -97, "titleY": 137, "titleAngle": 270, "titleAlign": "center", "titleBaseline": "middle"}}, "y2": {"field": "lo"}}},
{"data": {"name": "aIn"}, "mark": {"type": "area", "color": "#c6dfed", "opacity": 1},
 "encoding": {"x": {"field": "x", "type": "quantitative", "scale": {"domain": [-0.048, 1.052], "nice": false, "zero": false},
   "axis": {"title": null, "values": [0, 0.25, 0.5, 0.75, 1], "labelExpr": "replace(format(datum.value, '.2f'), '\u2212', '-')"}},
  "y": {"field": "hi", "type": "quantitative", "scale": {"domain": [-0.152, 0.129], "nice": false, "zero": false},
   "axis": {"title": "Average errors (+/- 2 SE)", "values": [-0.15, -0.1, -0.05, 0, 0.05, 0.1], "labelExpr": "replace(format(datum.value, '.2f'), '\u2212', '-')", "titleX": -97, "titleY": 137, "titleAngle": 270, "titleAlign": "center", "titleBaseline": "middle"}}, "y2": {"field": "lo"}}},
{"data": {"name": "zero"}, "mark": {"type": "rule", "color": "#0d1f2b", "strokeWidth": 2, "strokeDash": [15, 15.5]},
 "encoding": {"y": {"field": "v", "type": "quantitative", "scale": {"domain": [-0.152, 0.129], "nice": false, "zero": false},
   "axis": {"title": "Average errors (+/- 2 SE)", "values": [-0.15, -0.1, -0.05, 0, 0.05, 0.1], "labelExpr": "replace(format(datum.value, '.2f'), '\u2212', '-')", "titleX": -97, "titleY": 137, "titleAngle": 270, "titleAlign": "center", "titleBaseline": "middle"}}}},
{"data": {"name": "aPts"}, "mark": {"type": "point", "filled": true, "size": 24, "fill": "black", "fillOpacity": 0.3, "stroke": "black", "strokeOpacity": 0.35, "strokeWidth": 1},
 "encoding": {"x": {"field": "x", "type": "quantitative", "scale": {"domain": [-0.048, 1.052], "nice": false, "zero": false},
   "axis": {"title": null, "values": [0, 0.25, 0.5, 0.75, 1], "labelExpr": "replace(format(datum.value, '.2f'), '\u2212', '-')"}},
  "y": {"field": "y", "type": "quantitative", "scale": {"domain": [-0.152, 0.129], "nice": false, "zero": false},
   "axis": {"title": "Average errors (+/- 2 SE)", "values": [-0.15, -0.1, -0.05, 0, 0.05, 0.1], "labelExpr": "replace(format(datum.value, '.2f'), '\u2212', '-')", "titleX": -97, "titleY": 137, "titleAngle": 270, "titleAlign": "center", "titleBaseline": "middle"}}}}
]
},
{
"width": 287, "height": 257,
"title": {"text": ["b) Food security", "Outlier rate: <0.01%"]},
"layer": [
{"data": {"name": "zero"}, "mark": {"type": "rule", "color": "black", "strokeWidth": 2},
 "encoding": {"y": {"field": "v", "type": "quantitative", "scale": {"domain": [-0.233, 0.164], "nice": false, "zero": false},
   "axis": {"title": null, "values": [-0.2, -0.1, 0, 0.1], "labelExpr": "replace(format(datum.value, '.1f'), '\u2212', '-')"}}}},
{"data": {"name": "bOut"}, "mark": {"type": "area", "color": "#a6cee3", "opacity": 1},
 "encoding": {"x": {"field": "x", "type": "quantitative", "scale": {"domain": [0.003, 1.042], "nice": false, "zero": false},
   "axis": {"title": "Predicted proportion", "values": [0.25, 0.5, 0.75, 1], "labelExpr": "replace(format(datum.value, '.2f'), '\u2212', '-')", "titleX": 112, "titleY": 73, "titleAlign": "center", "titleBaseline": "alphabetic", "titleAngle": 0}},
  "y": {"field": "hi", "type": "quantitative", "scale": {"domain": [-0.233, 0.164], "nice": false, "zero": false},
   "axis": {"title": null, "values": [-0.2, -0.1, 0, 0.1], "labelExpr": "replace(format(datum.value, '.1f'), '\u2212', '-')"}}, "y2": {"field": "lo"}}},
{"data": {"name": "bIn"}, "mark": {"type": "area", "color": "#c6dfed", "opacity": 1},
 "encoding": {"x": {"field": "x", "type": "quantitative", "scale": {"domain": [0.003, 1.042], "nice": false, "zero": false},
   "axis": {"title": "Predicted proportion", "values": [0.25, 0.5, 0.75, 1], "labelExpr": "replace(format(datum.value, '.2f'), '\u2212', '-')", "titleX": 112, "titleY": 73, "titleAlign": "center", "titleBaseline": "alphabetic", "titleAngle": 0}},
  "y": {"field": "hi", "type": "quantitative", "scale": {"domain": [-0.233, 0.164], "nice": false, "zero": false},
   "axis": {"title": null, "values": [-0.2, -0.1, 0, 0.1], "labelExpr": "replace(format(datum.value, '.1f'), '\u2212', '-')"}}, "y2": {"field": "lo"}}},
{"data": {"name": "zero"}, "mark": {"type": "rule", "color": "#0d1f2b", "strokeWidth": 2, "strokeDash": [15, 15.5]},
 "encoding": {"y": {"field": "v", "type": "quantitative", "scale": {"domain": [-0.233, 0.164], "nice": false, "zero": false},
   "axis": {"title": null, "values": [-0.2, -0.1, 0, 0.1], "labelExpr": "replace(format(datum.value, '.1f'), '\u2212', '-')"}}}},
{"data": {"name": "bPts"}, "mark": {"type": "point", "filled": true, "size": 24, "fill": "black", "fillOpacity": 0.3, "stroke": "black", "strokeOpacity": 0.35, "strokeWidth": 1},
 "encoding": {"x": {"field": "x", "type": "quantitative", "scale": {"domain": [0.003, 1.042], "nice": false, "zero": false},
   "axis": {"title": "Predicted proportion", "values": [0.25, 0.5, 0.75, 1], "labelExpr": "replace(format(datum.value, '.2f'), '\u2212', '-')", "titleX": 112, "titleY": 73, "titleAlign": "center", "titleBaseline": "alphabetic", "titleAngle": 0}},
  "y": {"field": "y", "type": "quantitative", "scale": {"domain": [-0.233, 0.164], "nice": false, "zero": false},
   "axis": {"title": null, "values": [-0.2, -0.1, 0, 0.1], "labelExpr": "replace(format(datum.value, '.1f'), '\u2212', '-')"}}}}
]
},
{
"width": 287, "height": 257,
"title": {"text": ["c) Life satisfaction", "Outlier rate: 0.01%"]},
"layer": [
{"data": {"name": "zero"}, "mark": {"type": "rule", "color": "black", "strokeWidth": 2},
 "encoding": {"y": {"field": "v", "type": "quantitative", "scale": {"domain": [-0.17, 0.16], "nice": false, "zero": false},
   "axis": {"title": null, "values": [-0.1, 0, 0.1], "labelExpr": "replace(format(datum.value, '.1f'), '\u2212', '-')"}}}},
{"data": {"name": "cOut"}, "mark": {"type": "area", "color": "#a6cee3", "opacity": 1},
 "encoding": {"x": {"field": "x", "type": "quantitative", "scale": {"domain": [-0.025, 1.049], "nice": false, "zero": false},
   "axis": {"title": null, "values": [0, 0.25, 0.5, 0.75, 1], "labelExpr": "replace(format(datum.value, '.2f'), '\u2212', '-')"}},
  "y": {"field": "hi", "type": "quantitative", "scale": {"domain": [-0.17, 0.16], "nice": false, "zero": false},
   "axis": {"title": null, "values": [-0.1, 0, 0.1], "labelExpr": "replace(format(datum.value, '.1f'), '\u2212', '-')"}}, "y2": {"field": "lo"}}},
{"data": {"name": "cIn"}, "mark": {"type": "area", "color": "#c6dfed", "opacity": 1},
 "encoding": {"x": {"field": "x", "type": "quantitative", "scale": {"domain": [-0.025, 1.049], "nice": false, "zero": false},
   "axis": {"title": null, "values": [0, 0.25, 0.5, 0.75, 1], "labelExpr": "replace(format(datum.value, '.2f'), '\u2212', '-')"}},
  "y": {"field": "hi", "type": "quantitative", "scale": {"domain": [-0.17, 0.16], "nice": false, "zero": false},
   "axis": {"title": null, "values": [-0.1, 0, 0.1], "labelExpr": "replace(format(datum.value, '.1f'), '\u2212', '-')"}}, "y2": {"field": "lo"}}},
{"data": {"name": "zero"}, "mark": {"type": "rule", "color": "#0d1f2b", "strokeWidth": 2, "strokeDash": [15, 15.5]},
 "encoding": {"y": {"field": "v", "type": "quantitative", "scale": {"domain": [-0.17, 0.16], "nice": false, "zero": false},
   "axis": {"title": null, "values": [-0.1, 0, 0.1], "labelExpr": "replace(format(datum.value, '.1f'), '\u2212', '-')"}}}},
{"data": {"name": "cPts"}, "mark": {"type": "point", "filled": true, "size": 24, "fill": "black", "fillOpacity": 0.3, "stroke": "black", "strokeOpacity": 0.35, "strokeWidth": 1},
 "encoding": {"x": {"field": "x", "type": "quantitative", "scale": {"domain": [-0.025, 1.049], "nice": false, "zero": false},
   "axis": {"title": null, "values": [0, 0.25, 0.5, 0.75, 1], "labelExpr": "replace(format(datum.value, '.2f'), '\u2212', '-')"}},
  "y": {"field": "y", "type": "quantitative", "scale": {"domain": [-0.17, 0.16], "nice": false, "zero": false},
   "axis": {"title": null, "values": [-0.1, 0, 0.1], "labelExpr": "replace(format(datum.value, '.1f'), '\u2212', '-')"}}}}
]
}
],
"config": {
"font": "Liberation Sans",
"view": {"stroke": "#333333", "strokeWidth": 1.5},
"axis": {"grid": false, "domain": false, "tickColor": "#333333", "tickSize": 5, "tickWidth": 1.5, "labelColor": "#4d4d4d", "labelFontSize": 23, "labelFont": "Liberation Sans", "labelPadding": 3, "titleFont": "Liberation Sans", "titleFontSize": 21, "titleFontWeight": "normal", "titleColor": "black"},
"title": {"anchor": "start", "frame": "group", "fontSize": 21, "fontWeight": "normal", "color": "black", "font": "Liberation Sans", "lineHeight": 22, "offset": 15}
}
}
